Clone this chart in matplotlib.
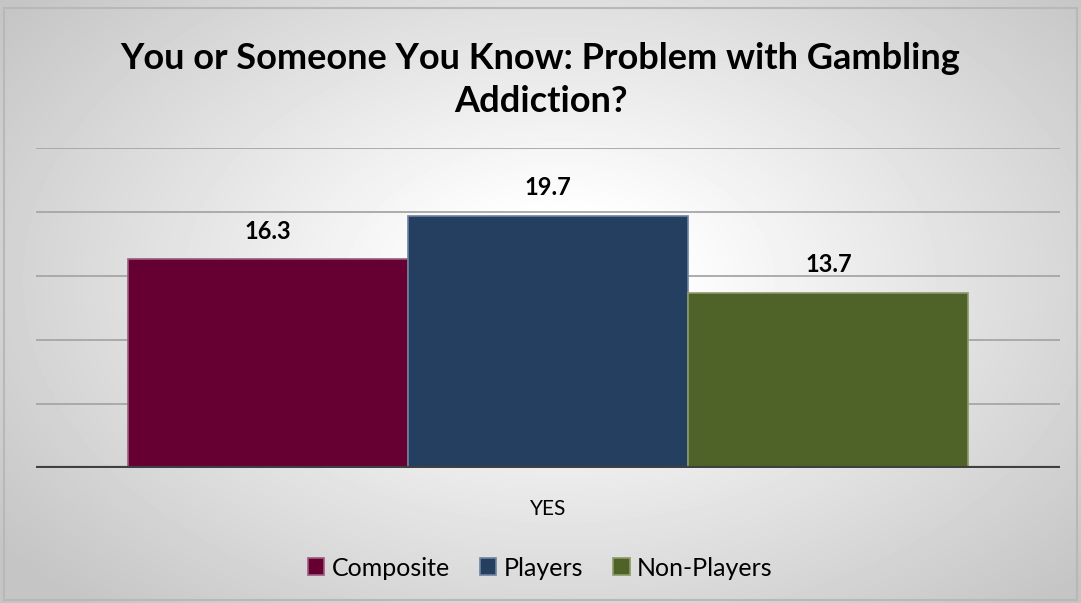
import numpy as np
import matplotlib
matplotlib.use("Agg")
import matplotlib.pyplot as plt
from matplotlib.patches import Rectangle

plt.rcParams['font.family'] = ['Lato', 'DejaVu Sans']

category = ["YES"]
series = ["Composite", "Players", "Non-Players"]
values = [16.3, 19.7, 13.7]
colors = ["#660033", "#243F60", "#4F6228"]
edges = ["#9a5c7c", "#6f83a0", "#8a9a6a"]

fig = plt.figure(figsize=(10.81, 6.03), dpi=100)

# radial gradient background
bg = fig.add_axes([0, 0, 1, 1], zorder=0)
yy, xx = np.mgrid[0:603, 0:1081]
r = np.sqrt(((xx - 560) / 620.0) ** 2 + ((yy - 280) / 400.0) ** 2)
shade = np.clip(1.04 - 0.24 * r, 0.77, 1.0)
bg.imshow(shade, cmap="gray", vmin=0, vmax=1, extent=[0, 1081, 603, 0], aspect="auto")
bg.add_patch(Rectangle((4, 8), 1073, 592, fill=False, edgecolor="#b8b8b8", lw=1.5))
bg.set_xlim(0, 1081)
bg.set_ylim(603, 0)
bg.axis("off")

ax = fig.add_axes([36 / 1081, 1 - 468 / 603, 1024 / 1081, 320 / 603], zorder=1)
ax.patch.set_alpha(0)

x = np.arange(len(series)) - 1
for i in range(len(series)):
    ax.bar(x[i], values[i], width=1.0, color=colors[i], edgecolor=edges[i],
           linewidth=1.2, label=series[i], zorder=2)
    ax.text(x[i], values[i] + 2.2, f"{values[i]:.1f}", ha="center", va="center",
            fontsize=17, fontweight="bold", color="black")

ax.set_ylim(0, 25)
ax.set_xlim(-1.8265, 1.8265)
for gy in [5, 10, 15, 20, 25]:
    ax.axhline(gy, color="#a6a6a6", lw=1.3, zorder=1)
ax.axhline(0, color="#404040", lw=3, zorder=3)

for s in ax.spines.values():
    s.set_visible(False)
ax.set_yticks([])
ax.set_xticks([0])
ax.set_xticklabels(category, fontsize=15)
ax.tick_params(axis="x", length=0, pad=22)

fig.text(0.5, 1 - 80 / 603, "You or Someone You Know: Problem with Gambling\nAddiction?",
         ha="center", va="center", fontsize=26, fontweight="bold", linespacing=1.4)

leg = fig.legend(loc="center", bbox_to_anchor=(0.5, 1 - 568 / 603), ncol=3,
                 frameon=False, fontsize=18, handlelength=0.65, handleheight=0.65,
                 handletextpad=0.3, columnspacing=1.2)

fig.savefig("out.png", dpi=100)
